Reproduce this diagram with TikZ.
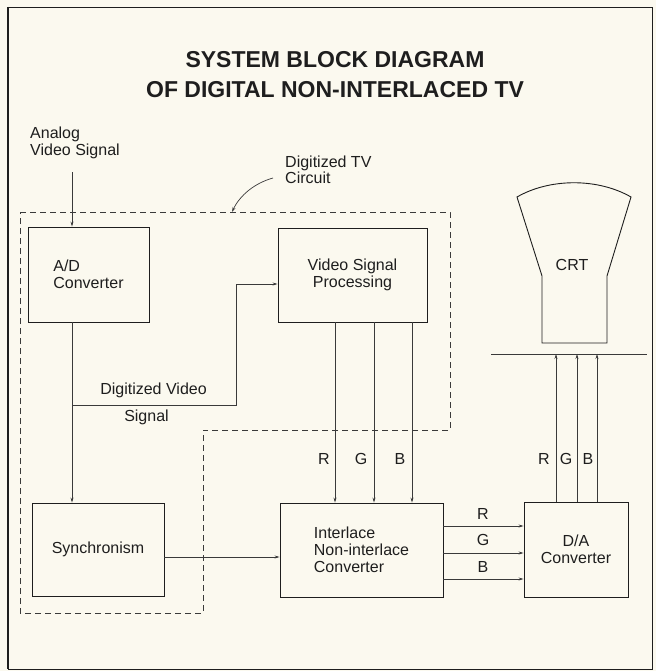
\documentclass[tikz,border=0pt]{standalone}
\usepackage{fontspec}
\setmainfont{Liberation Sans}
\usetikzlibrary{arrows.meta}

\definecolor{paper}{HTML}{FBF9EF}
\definecolor{ink}{HTML}{1E1E1E}
\definecolor{wire}{HTML}{3A3A3A}

\newcommand{\lbl}{\fontsize{16}{17}\selectfont}
\newcommand{\ttl}{\fontsize{23}{30}\selectfont\bfseries}

\tikzset{
	blok/.style={draw=ink, rectangle, line width=0.9pt, inner sep=0pt, font=\lbl, text=ink},
	napis/.style={font=\lbl, text=ink, inner sep=0pt},
	sygnal/.style={wire, line width=0.7pt},
	obwod/.style={wire, line width=0.7pt, dash pattern=on 6pt off 4pt},
	>={Stealth[length=5pt,width=3pt]}
}

\begin{document}
\begin{tikzpicture}[x=1pt,y=-1pt]
	\fill[paper] (0,0) rectangle (656,671);
	\useasboundingbox (0,0) rectangle (656,671);
	\draw[ink, line width=0.8pt] (8,7) rectangle (652,669);
	\draw[ink, line width=2pt] (8,7) -- (8,669);

	\node[font=\ttl, text=ink, align=center] (tytul) at (335,75) {SYSTEM BLOCK DIAGRAM\\OF DIGITAL NON-INTERLACED TV};

	% bloki
	\node[blok, minimum width=121pt, minimum height=95pt, align=left] (adc) at (88.5,274.5) {A/D\\Converter};
	\node[blok, minimum width=149pt, minimum height=94pt, align=center] (vsp) at (352.5,275) {Video Signal\\Processing};
	\node[blok, minimum width=132pt, minimum height=93pt] (sync) at (98,549.5) {Synchronism};
	\node[blok, minimum width=163pt, minimum height=94pt, align=left] (ilc) at (361.5,550) {Interlace\\Non-interlace\\Converter};
	\node[blok, minimum width=104pt, minimum height=95pt, align=center] (dac) at (576,549.5) {D/A\\Converter};

	% kineskop
	\draw[ink, line width=0.9pt] (517,197) .. controls (550,178) and (598,178) .. (631,197) -- (607,276) -- (607,343) -- (542,343) -- (542,276) -- cycle;
	\node[napis] (crt) at (572,265) {CRT};
	\coordinate (ekranL) at (491,354);
	\coordinate (ekranP) at (647,354);
	\draw[sygnal] (ekranL) -- (ekranP);

	% obwod cyfrowy
	\draw[obwod] (20,212) -- (450,212) -- (450,430) -- (203,430) -- (203,613) -- (20,613) -- cycle;
	\node[napis, align=left, anchor=west] (analog) at (30,142.5) {Analog\\Video Signal};
	\node[napis, align=left, anchor=west, font=\fontsize{16}{16}\selectfont] (dtv) at (285,169.5) {Digitized TV\\Circuit};
	\coordinate (wsk) at (273,178);
	\coordinate (obw) at (232,212);
	\draw[sygnal,->] (wsk) .. controls (255,183) and (240,195) .. (obw);

	% sygnal wejsciowy
	\coordinate (wej) at (72,172);
	\draw[sygnal,->] (wej) -- (wej |- adc.north);
	\draw[sygnal,->] (adc.south -| wej) -- (sync.north -| wej);
	\coordinate (odg) at (72,405);
	\coordinate (zal) at (236,405);
	\coordinate (zal2) at (236,284);
	\draw[sygnal,->] (odg) -- (zal) -- (zal2) -- (zal2 -| vsp.west);
	\node[napis] (dvs) at (153.5,390) {Digitized Video};
	\node[napis] (dvs2) at (146.5,417) {Signal};

	\draw[sygnal,->] (sync.east |- 0,557) -- (ilc.west |- 0,557);

	% R G B
	\foreach \x/\k/\lx in {335/R/324, 374/G/361, 412/B/400} {
		\draw[sygnal,->] (vsp.south -| \x,0) -- (ilc.north -| \x,0);
		\node[napis] at (\lx,459) {\k};
	}
	\foreach \y/\k/\ly in {526/R/514, 553/G/540, 579/B/567} {
		\draw[sygnal,->] (ilc.east |- 0,\y) -- (dac.west |- 0,\y);
		\node[napis] at (483,\ly) {\k};
	}
	\foreach \x/\k/\lx in {556/R/544, 577/G/566, 597/B/588} {
		\draw[sygnal,->] (dac.north -| \x,0) -- (ekranL -| \x,0);
		\node[napis] at (\lx,459) {\k};
	}
\end{tikzpicture}
\end{document}
